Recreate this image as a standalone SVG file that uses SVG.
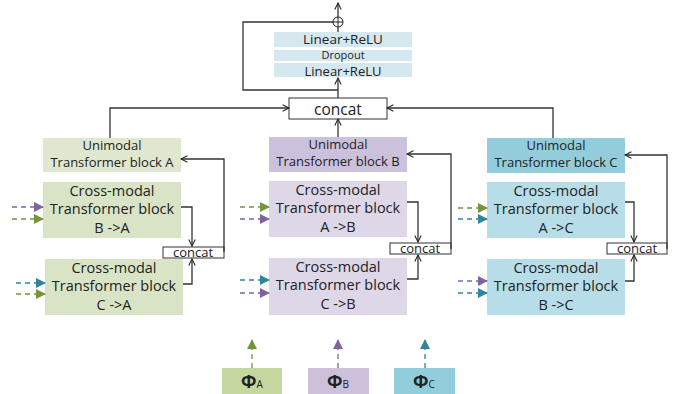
<svg xmlns="http://www.w3.org/2000/svg" width="681" height="394" viewBox="0 0 681 394">
<defs>
<marker id="open" viewBox="0 0 10 10" refX="9" refY="5" markerWidth="8" markerHeight="8" markerUnits="userSpaceOnUse" orient="auto">
<path d="M1,1 L9,5 L1,9" fill="none" stroke="#222" stroke-width="1.3"/>
</marker>
<marker id="tg" viewBox="0 0 10 10" refX="9" refY="5" markerWidth="10" markerHeight="10" markerUnits="userSpaceOnUse" orient="auto"><path d="M0,0 L10,5 L0,10 z" fill="#77933c"/></marker>
<marker id="tp" viewBox="0 0 10 10" refX="9" refY="5" markerWidth="10" markerHeight="10" markerUnits="userSpaceOnUse" orient="auto"><path d="M0,0 L10,5 L0,10 z" fill="#8064a2"/></marker>
<marker id="tt" viewBox="0 0 10 10" refX="9" refY="5" markerWidth="10" markerHeight="10" markerUnits="userSpaceOnUse" orient="auto"><path d="M0,0 L10,5 L0,10 z" fill="#31849b"/></marker>
</defs>
<style>
text{font-family:"Open Sans","Noto Sans","DejaVu Sans",sans-serif;fill:#222;text-anchor:middle}
.uni{font-size:13px}
.cm{font-size:14.5px}
.con{fill:none;stroke:#333;stroke-width:1.3}
.dg{stroke:#77933c;stroke-width:1.3;stroke-dasharray:5,4;fill:none}
.dp{stroke:#8064a2;stroke-width:1.3;stroke-dasharray:5,4;fill:none}
.dt{stroke:#31849b;stroke-width:1.3;stroke-dasharray:5,4;fill:none}
.cbox{fill:#fff;stroke:#333;stroke-width:1}
.lin{fill:#d5e8ef}
</style>
<rect width="681" height="394" fill="#fff"/>

<g id="head">
<rect class="lin" x="274" y="32" width="138" height="15"/>
<rect class="lin" x="274" y="50" width="138" height="11"/>
<rect class="lin" x="274" y="63" width="138" height="14"/>
<text x="343" y="44" font-size="13.5">Linear+ReLU</text>
<text x="343" y="58.5" font-size="11">Dropout</text>
<text x="343" y="76" font-size="13">Linear+ReLU</text>
</g>
<g id="plus">
<circle cx="338" cy="22" r="5" fill="#fff" stroke="#222" stroke-width="1"/>
<path d="M333,22 H343 M338,17 V27" stroke="#222" stroke-width="1"/>
</g>
<g id="concat-main">
<rect class="cbox" x="289" y="98" width="98" height="21"/>
<text x="338" y="115" font-size="15.5">concat</text>
</g>

<g id="uniA"><rect x="43" y="138" width="138" height="34" fill="#dfe8cf"/>
<text class="uni" x="112" y="150">Unimodal</text><text class="uni" x="112" y="167">Transformer block A</text></g>
<g id="cmBA"><rect x="43" y="182" width="138" height="56" fill="#d9e4c6"/>
<text class="cm" x="112" y="196">Cross-modal</text><text class="cm" x="112" y="214">Transformer block</text><text class="cm" x="112" y="233">B -&gt;A</text></g>
<g id="cmCA"><rect x="45" y="259" width="138" height="56" fill="#d9e4c6"/>
<text class="cm" x="114" y="273">Cross-modal</text><text class="cm" x="114" y="291">Transformer block</text><text class="cm" x="114" y="310">C -&gt;A</text></g>
<g id="concatA"><rect class="cbox" x="163" y="247" width="61" height="11"/><text x="193" y="257" font-size="13">concat</text></g>

<g id="uniB"><rect x="269" y="137" width="138" height="35" fill="#ccc1dc"/>
<text class="uni" x="338" y="149">Unimodal</text><text class="uni" x="338" y="166">Transformer block B</text></g>
<g id="cmAB"><rect x="269" y="181" width="138" height="56" fill="#ddd7e8"/>
<text class="cm" x="338" y="195">Cross-modal</text><text class="cm" x="338" y="213">Transformer block</text><text class="cm" x="338" y="232">A -&gt;B</text></g>
<g id="cmCB"><rect x="269" y="258" width="138" height="57" fill="#ddd7e8"/>
<text class="cm" x="338" y="272">Cross-modal</text><text class="cm" x="338" y="290">Transformer block</text><text class="cm" x="338" y="309">C -&gt;B</text></g>
<g id="concatB"><rect class="cbox" x="390" y="243" width="61" height="11"/><text x="420" y="253" font-size="13">concat</text></g>

<g id="uniC"><rect x="487" y="138" width="138" height="35" fill="#93cddc"/>
<text class="uni" x="556" y="150">Unimodal</text><text class="uni" x="556" y="167">Transformer block C</text></g>
<g id="cmAC"><rect x="487" y="182" width="138" height="56" fill="#b7dee8"/>
<text class="cm" x="556" y="196">Cross-modal</text><text class="cm" x="556" y="214">Transformer block</text><text class="cm" x="556" y="233">A -&gt;C</text></g>
<g id="cmBC"><rect x="487" y="259" width="138" height="56" fill="#b7dee8"/>
<text class="cm" x="556" y="273">Cross-modal</text><text class="cm" x="556" y="291">Transformer block</text><text class="cm" x="556" y="310">B -&gt;C</text></g>
<g id="concatC"><rect class="cbox" x="607" y="243" width="60" height="11"/><text x="637" y="253" font-size="13">concat</text></g>

<g id="phiA"><rect x="222" y="368" width="60" height="26" fill="#c4d79f"/><text x="252" y="388" font-size="18" font-weight="bold">Φ<tspan font-size="10" font-weight="normal">A</tspan></text></g>
<g id="phiB"><rect x="308" y="368" width="61" height="26" fill="#ccc0da"/><text x="338" y="388" font-size="18" font-weight="bold">Φ<tspan font-size="10" font-weight="normal">B</tspan></text></g>
<g id="phiC"><rect x="394" y="368" width="61" height="26" fill="#92cddc"/><text x="424" y="388" font-size="18" font-weight="bold">Φ<tspan font-size="10" font-weight="normal">C</tspan></text></g>

<g id="connectors">
<path class="con" d="M338,17 V3" marker-end="url(#open)"/>
<path class="con" d="M338,27 V32"/>
<path class="con" d="M338,98 V78" marker-end="url(#open)"/>
<path class="con" d="M338,90 H243 V22 H333"/>
<path class="con" d="M110,138 V108 H289" marker-end="url(#open)"/>
<path class="con" d="M553,138 V108 H387" marker-end="url(#open)"/>
<path class="con" d="M338,137 V119" marker-end="url(#open)"/>

<path class="con" d="M181,207 H192 V246" marker-end="url(#open)"/>
<path class="con" d="M183,284 H192 V259" marker-end="url(#open)"/>
<path class="con" d="M224,252 V159 H181" marker-end="url(#open)"/>

<path class="con" d="M407,202 H418 V242" marker-end="url(#open)"/>
<path class="con" d="M407,279 H418 V255" marker-end="url(#open)"/>
<path class="con" d="M451,249 V154 H407" marker-end="url(#open)"/>

<path class="con" d="M625,202 H634 V242" marker-end="url(#open)"/>
<path class="con" d="M625,281 H634 V255" marker-end="url(#open)"/>
<path class="con" d="M667,249 V155 H625" marker-end="url(#open)"/>

<path class="dp" d="M12,207 H43" marker-end="url(#tp)"/>
<path class="dg" d="M12,219 H43" marker-end="url(#tg)"/>
<path class="dt" d="M16,283 H45" marker-end="url(#tt)"/>
<path class="dg" d="M16,294 H45" marker-end="url(#tg)"/>

<path class="dg" d="M240,207 H269" marker-end="url(#tg)"/>
<path class="dp" d="M240,219 H269" marker-end="url(#tp)"/>
<path class="dt" d="M240,280 H269" marker-end="url(#tt)"/>
<path class="dp" d="M240,293 H269" marker-end="url(#tp)"/>

<path class="dg" d="M458,208 H487" marker-end="url(#tg)"/>
<path class="dt" d="M458,219 H487" marker-end="url(#tt)"/>
<path class="dp" d="M458,281 H487" marker-end="url(#tp)"/>
<path class="dt" d="M458,293 H487" marker-end="url(#tt)"/>

<path class="dg" d="M252,368 V340" marker-end="url(#tg)"/>
<path class="dp" d="M338,368 V340" marker-end="url(#tp)"/>
<path class="dt" d="M425,368 V340" marker-end="url(#tt)"/>
</g>
</svg>
